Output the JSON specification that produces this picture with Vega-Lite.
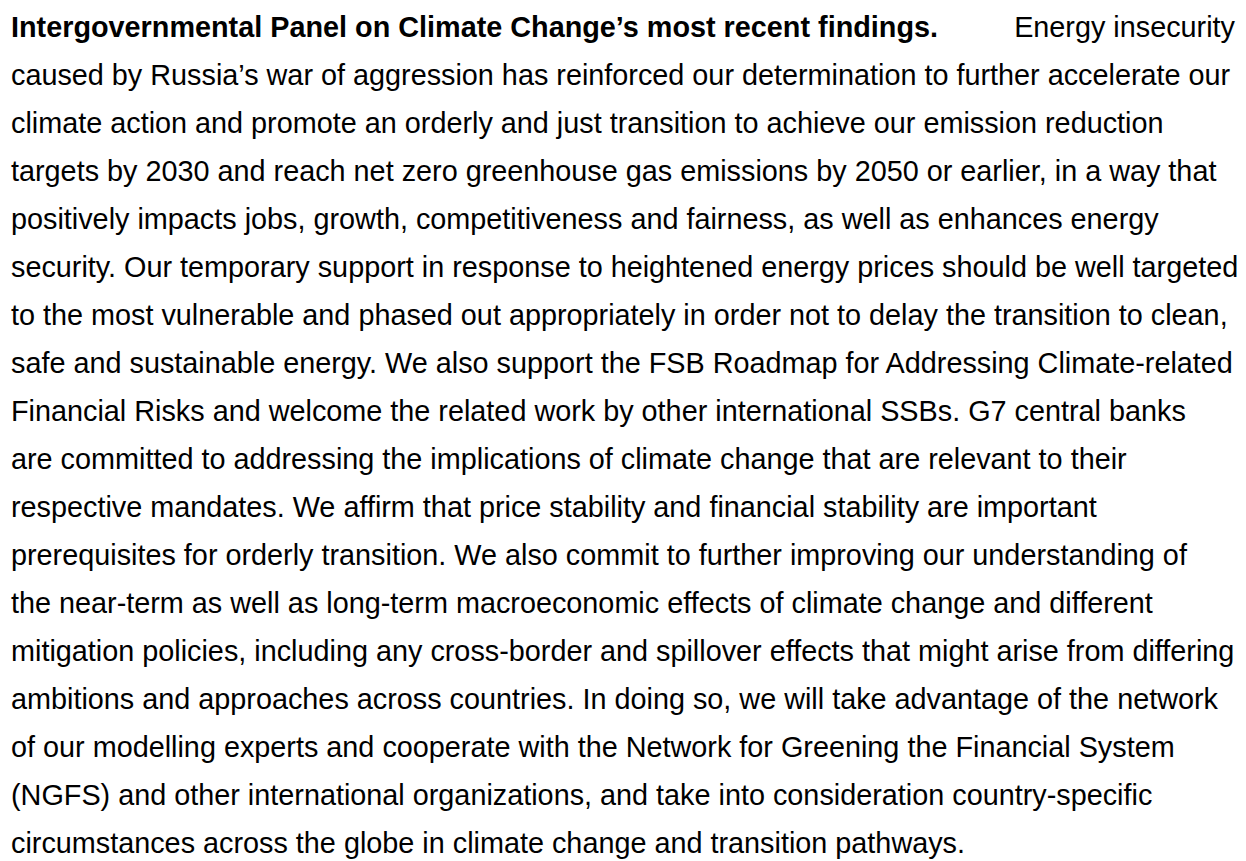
{
  "$schema": "https://vega.github.io/schema/vega-lite/v6.json",
  "width": 1246,
  "height": 861,
  "autosize": {"type": "fit", "contains": "padding"},
  "padding": 0,
  "background": "#ffffff",
  "config": {"view": {"stroke": null}},
  "data": {
    "values": [
      {"line": 1, "part": "heading", "edge": 0, "text": "Intergovernmental Panel on Climate Change’s most recent findings."},
      {"line": 1, "part": "lead", "edge": 1, "text": "Energy insecurity"},
      {"line": 2, "part": "body", "edge": 0, "text": "caused by Russia’s war of aggression has reinforced our determination to further accelerate our"},
      {"line": 3, "part": "body", "edge": 0, "text": "climate action and promote an orderly and just transition to achieve our emission reduction"},
      {"line": 4, "part": "body", "edge": 0, "text": "targets by 2030 and reach net zero greenhouse gas emissions by 2050 or earlier, in a way that"},
      {"line": 5, "part": "body", "edge": 0, "text": "positively impacts jobs, growth, competitiveness and fairness, as well as enhances energy"},
      {"line": 6, "part": "body", "edge": 0, "text": "security. Our temporary support in response to heightened energy prices should be well targeted"},
      {"line": 7, "part": "body", "edge": 0, "text": "to the most vulnerable and phased out appropriately in order not to delay the transition to clean,"},
      {"line": 8, "part": "body", "edge": 0, "text": "safe and sustainable energy. We also support the FSB Roadmap for Addressing Climate-related"},
      {"line": 9, "part": "body", "edge": 0, "text": "Financial Risks and welcome the related work by other international SSBs. G7 central banks"},
      {"line": 10, "part": "body", "edge": 0, "text": "are committed to addressing the implications of climate change that are relevant to their"},
      {"line": 11, "part": "body", "edge": 0, "text": "respective mandates. We affirm that price stability and financial stability are important"},
      {"line": 12, "part": "body", "edge": 0, "text": "prerequisites for orderly transition. We also commit to further improving our understanding of"},
      {"line": 13, "part": "body", "edge": 0, "text": "the near-term as well as long-term macroeconomic effects of climate change and different"},
      {"line": 14, "part": "body", "edge": 0, "text": "mitigation policies, including any cross-border and spillover effects that might arise from differing"},
      {"line": 15, "part": "body", "edge": 0, "text": "ambitions and approaches across countries. In doing so, we will take advantage of the network"},
      {"line": 16, "part": "body", "edge": 0, "text": "of our modelling experts and cooperate with the Network for Greening the Financial System"},
      {"line": 17, "part": "body", "edge": 0, "text": "(NGFS) and other international organizations, and take into consideration country-specific"},
      {"line": 18, "part": "body", "edge": 0, "text": "circumstances across the globe in climate change and transition pathways."}
    ]
  },
  "encoding": {
    "x": {"field": "edge", "type": "quantitative", "scale": {"domain": [0, 1], "range": [11, 1235], "zero": false, "nice": false}, "axis": null},
    "y": {"field": "line", "type": "quantitative", "scale": {"domain": [1, 18], "range": [37, 853], "zero": false, "nice": false}, "axis": null},
    "text": {"field": "text", "type": "nominal"}
  },
  "layer": [
    {
      "transform": [{"filter": "datum.part === 'heading'"}],
      "mark": {"type": "text", "align": "left", "baseline": "alphabetic", "font": "Liberation Sans", "fontSize": 28.8, "fontWeight": "bold", "color": "#000000"}
    },
    {
      "transform": [{"filter": "datum.part === 'lead'"}],
      "mark": {"type": "text", "align": "right", "baseline": "alphabetic", "font": "Liberation Sans", "fontSize": 28.8, "fontWeight": "normal", "color": "#000000"}
    },
    {
      "transform": [{"filter": "datum.part === 'body'"}],
      "mark": {"type": "text", "align": "left", "baseline": "alphabetic", "font": "Liberation Sans", "fontSize": 28.8, "fontWeight": "normal", "color": "#000000"}
    }
  ]
}
